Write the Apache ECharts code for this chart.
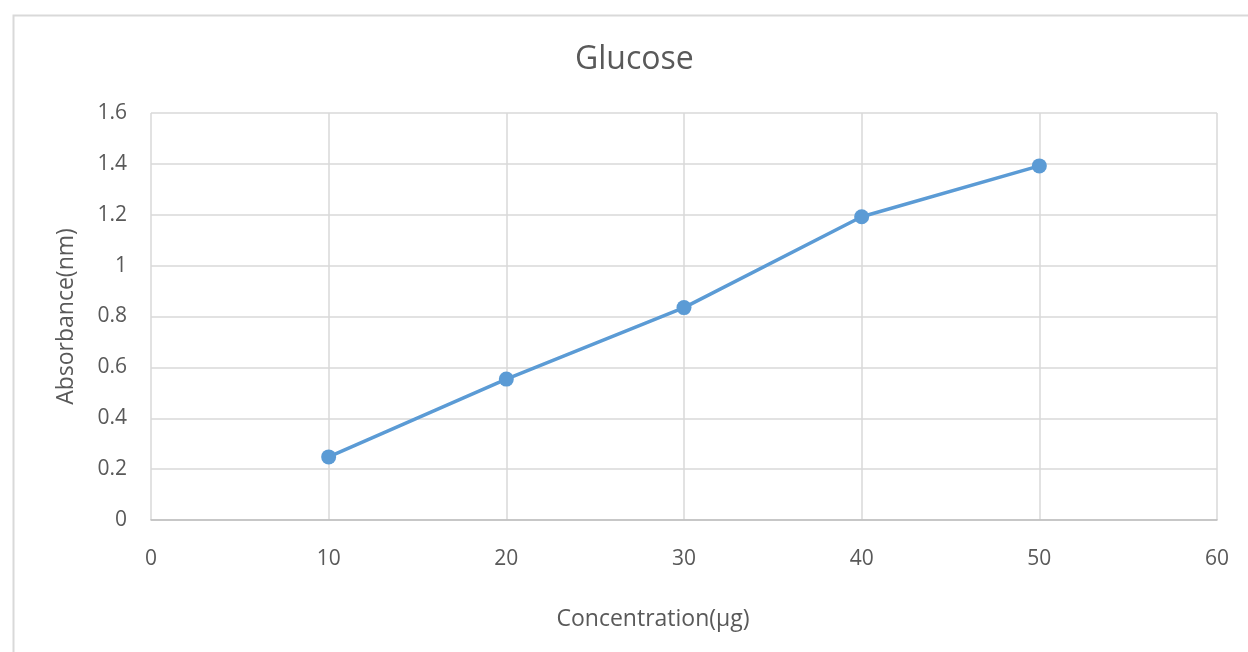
<!DOCTYPE html>
<html>
<head>
<meta charset="utf-8">
<script src="https://cdn.jsdelivr.net/npm/echarts@6/dist/echarts.min.js"></script>
<style>
html,body{margin:0;padding:0;background:#fff;}
#c{width:1248px;height:652px;}
</style>
</head>
<body>
<div id="c"></div>
<script>
const concentration = [10, 20, 30, 40, 50];
const absorbance = [0.248, 0.554, 0.835, 1.192, 1.392];
const titleText = 'Glucose';
const xTitle = 'Concentration(µg)';
const yTitle = 'Absorbance(nm)';

const chart = echarts.init(document.getElementById('c'), null, {renderer: 'canvas'});
const font = '"Open Sans", "Liberation Sans", sans-serif';
chart.setOption({
  animation: false,
  backgroundColor: '#fff',
  graphic: [{
    type: 'rect', left: 11, top: 13, silent: true,
    shape: {width: 1300, height: 700},
    style: {fill: 'none', stroke: '#d9d9d9', lineWidth: 2}
  }],
  title: {
    text: titleText, left: 570, top: 39,
    textStyle: {fontFamily: font, fontSize: 32, fontWeight: 'normal', color: '#595959'}
  },
  grid: {left: 151, right: 31, top: 113, bottom: 132},
  xAxis: {
    type: 'value', min: 0, max: 60, interval: 10,
    name: xTitle, nameLocation: 'middle', nameGap: 88,
    nameTextStyle: {fontFamily: font, fontSize: 23, color: '#595959', padding: [0, 62, 0, 0]},
    axisLine: {show: true, lineStyle: {color: '#bfbfbf', width: 1.5}},
    axisTick: {show: false},
    axisLabel: {fontFamily: font, fontSize: 21, color: '#595959', margin: 29},
    splitLine: {show: true, lineStyle: {color: '#d9d9d9', width: 1.5}}
  },
  yAxis: {
    type: 'value', min: 0, max: 1.6, interval: 0.2,
    name: yTitle, nameLocation: 'middle', nameGap: 73,
    nameTextStyle: {fontFamily: font, fontSize: 23, color: '#595959'},
    axisLine: {show: false},
    axisTick: {show: false},
    axisLabel: {fontFamily: font, fontSize: 21, color: '#595959', margin: 24},
    splitLine: {show: true, lineStyle: {color: '#d9d9d9', width: 1.5}}
  },
  series: [{
    type: 'line',
    data: concentration.map((c, i) => [c, absorbance[i]]),
    symbol: 'circle', symbolSize: 15,
    lineStyle: {color: '#5b9bd5', width: 3.5},
    itemStyle: {color: '#5b9bd5'}
  }]
});
</script>
</body>
</html>
